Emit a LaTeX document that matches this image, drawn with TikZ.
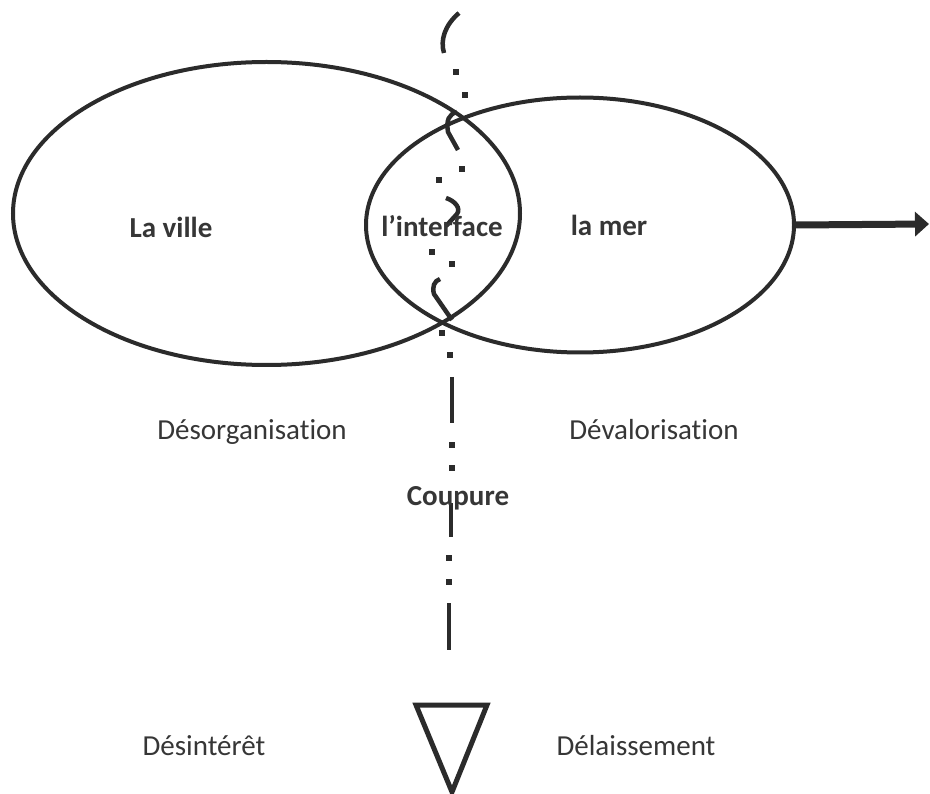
\documentclass[tikz,border=0pt]{standalone}
\usepackage{fontspec}
\setmainfont{Carlito}[Ligatures=NoCommon]
\usetikzlibrary{shapes.geometric,arrows.meta}
\definecolor{ink}{HTML}{2B2B2B}
\definecolor{txt}{HTML}{363636}
\begin{document}
\begin{tikzpicture}[x=1pt,y=-1pt,
  zone/.style={ellipse, draw=ink, line width=4pt, inner sep=0pt},
  txtlabel/.style={text=txt, font=\fontsize{29}{34}\selectfont, inner sep=0pt, anchor=base},
  boldlabel/.style={txtlabel, font=\fontsize{29}{34}\selectfont\bfseries},
  cutline/.style={draw=ink, line width=4.5pt},
  cutdot/.style={fill=ink},
  ]
\useasboundingbox (0,0) rectangle (930,794);

% the two overlapping zones
\node[zone, minimum width=507pt, minimum height=303pt] (ville) at (266.5,213.5) {};
\node[zone, minimum width=428pt, minimum height=255pt] (mer) at (580,225) {};

% arrow leaving the sea zone
\coordinate (arrowend) at (929,224);
\draw[ink, line width=7pt, -{Triangle[length=14pt,width=24pt]}] (mer.east) -- (arrowend);

% the wavy dash-dot cut line
\draw[cutline] (459,13) .. controls (445,25) and (440,40) .. (444,53);
\draw[cutline] (457,112) .. controls (449,114) and (446,120) .. (448,132) -- (458,150);
\draw[cutline] (446,198) .. controls (455,201) and (461,208) .. (457,214) -- (446,226);
\draw[cutline] (440,279) .. controls (434,281) and (432,287) .. (434,294) -- (452,320);
\draw[cutline] (452,377) -- (452,423);
\draw[cutline] (451,503) -- (451,537);
\draw[cutline] (449,603) -- (449,650);
\foreach \px/\py in {456/72, 465/95, 462/169, 439/180, 432/252, 452/264,
                     442/333, 450/355, 452/445, 452/468, 449/558, 449/582}
  \fill[cutdot] (\px-2.7,\py-2.7) rectangle (\px+2.7,\py+2.7);

% downward triangle
\coordinate (tl) at (416,705);
\coordinate (tr) at (487,705);
\coordinate (tb) at (452,792);
\draw[ink, line width=5pt, line join=miter] (tl) -- (tr) -- (tb) -- cycle;

% labels
\node[boldlabel] (lville) at (171,238) {La ville};
\node[boldlabel] (linter) at (442,237) {l’interface};
\node[boldlabel] (lmer) at (609,236) {la mer};
\node[txtlabel] (ldesorg) at (252,440) {Désorganisation};
\node[txtlabel] (ldeval) at (654,440) {Dévalorisation};
\node[boldlabel] (lcoup) at (458,506) {Coupure};
\node[txtlabel] (ldesint) at (204,755) {Désintérêt};
\node[txtlabel] (ldelaiss) at (636,755) {Délaissement};
\end{tikzpicture}
\end{document}
